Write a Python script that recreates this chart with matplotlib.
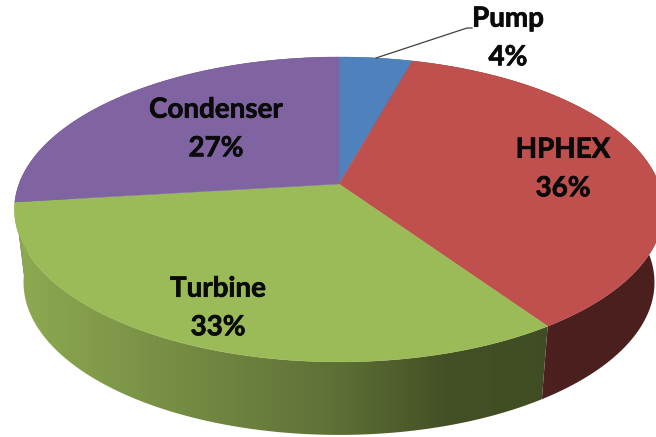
import numpy as np
import matplotlib
matplotlib.use("Agg")
import matplotlib.pyplot as plt
import matplotlib.patheffects as pe
from matplotlib.colors import to_rgb
from matplotlib.patches import Polygon

# Data (clockwise from 12 o'clock)
categories = ["Pump", "HPHEX", "Turbine", "Condenser"]
shares = [4.3, 36.2, 32.6, 26.9]
colors = ["#4F81BD", "#C0504D", "#9BBB59", "#8064A2"]

# Side shading: screen x stops and colours per slice
grad_x = [20, 330, 450, 660]
side_colors = {
    "Pump": ["#2F4D71"] * 4,
    "HPHEX": ["#4D2120", "#4D2120", "#4D2120", "#4A1F1E"],
    "Turbine": ["#8DA951", "#5F7137", "#434F24", "#3E4A22"],
    "Condenser": ["#4C3C61"] * 4,
}
side_order = ["Pump", "Condenser", "HPHEX", "Turbine"]
label_pos = {"Pump": (508, 37), "HPHEX": (563, 168), "Turbine": (218, 307), "Condenser": (216, 128)}

# Projection of the disc
CX, CY, A, B, K = 339.0, 184.0, 320.0, 148.2, 0.167
DEPTH, SHRINK = 73.0, 0.972


def project(theta):
    u, v = np.sin(theta), np.cos(theta)
    w = 1 + K * v
    return CX + A * u / w, CY - B * v / w


fig = plt.figure(figsize=(6.56, 4.37), dpi=100)
ax = fig.add_axes([0, 0, 1, 1])
ax.set_xlim(0, 656)
ax.set_ylim(437, 0)
ax.axis("off")

edges = 2 * np.pi * np.concatenate([[0], np.cumsum(shares)]) / np.sum(shares)
spans = dict(zip(categories, zip(edges[:-1], edges[1:])))

# Sides: a horizontal gradient clipped to each slice's outer wall
xs = np.arange(0, 657)
for name in side_order:
    t0, t1 = spans[name]
    th = np.linspace(t0, t1, 200)
    x, y = project(th)
    xb, yb = CX + (x - CX) * SHRINK, y + DEPTH
    rgb = np.array([to_rgb(c) for c in side_colors[name]])
    img = np.stack([np.interp(xs, grad_x, rgb[:, c]) for c in range(3)], axis=-1)[None, :, :]
    im = ax.imshow(img, extent=(0, 656, 437, 0), aspect="auto", zorder=2, interpolation="bilinear")
    im.set_clip_path(Polygon(np.c_[np.r_[x, xb[::-1]], np.r_[y, yb[::-1]]], transform=ax.transData))

# Top face
for name, col in zip(categories, colors):
    t0, t1 = spans[name]
    th = np.linspace(t0, t1, 200)
    x, y = project(th)
    ax.fill(np.r_[CX, x], np.r_[CY, y], facecolor=col, edgecolor=col, linewidth=0.3, zorder=3)

# Leader line for the smallest slice
lx, ly = project(edges[1] * 0.5)
ax.plot([lx, 467, 472], [ly, 28, 28], color="#404040", lw=0.9, zorder=4)

# Labels
for name, val in zip(categories, shares):
    px, py = label_pos[name]
    ax.text(px, py + 1, f"{name}\n{val:.0f}%", ha="center", va="center", family="Lato",
            weight="bold", fontsize=20, color="#0A0A0A", linespacing=1.6, zorder=5,
            path_effects=[pe.withStroke(linewidth=0.5, foreground="#0A0A0A")])

ax.set_xlim(0, 656)
ax.set_ylim(437, 0)
fig.savefig("out.png", dpi=100)
